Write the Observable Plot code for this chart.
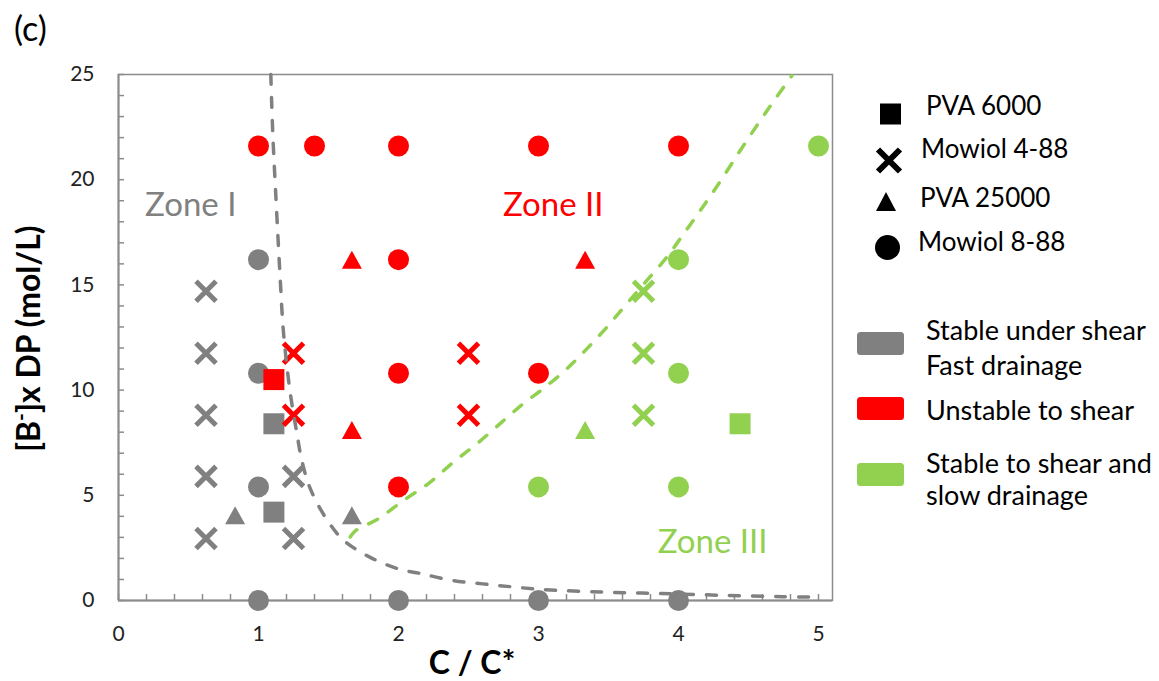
<!DOCTYPE html>
<html><head><meta charset="utf-8">
<script src="https://cdn.jsdelivr.net/npm/d3@7"></script>
<script src="https://cdn.jsdelivr.net/npm/@observablehq/plot@0.6"></script>
<style>
body{margin:0;background:#fff;}
#wrap{position:relative;width:1159px;height:681px;font-family:Lato,"Open Sans",sans-serif;}
#wrap svg{position:absolute;left:0;top:0;}
</style></head><body><div id="wrap"></div>
<script>
// ---- data (x = C / C*, y = [B-] x DP, zone) ----
const circles = [ // Mowiol 8-88
  [1,0,"I"],[2,0,"I"],[3,0,"I"],[4,0,"I"],[1,16.2,"I"],[1,10.8,"I"],[1,5.4,"I"],
  [1,21.6,"II"],[1.4,21.6,"II"],[2,21.6,"II"],[3,21.6,"II"],[4,21.6,"II"],
  [2,16.2,"II"],[2,10.8,"II"],[3,10.8,"II"],[2,5.4,"II"],
  [5,21.6,"III"],[4,16.2,"III"],[4,10.8,"III"],[3,5.4,"III"],[4,5.4,"III"]
];
const squares = [ // PVA 6000
  [1.11,8.4,"I"],[1.11,4.2,"I"],[1.11,10.5,"II"],[4.44,8.4,"III"]
];
const crosses = [ // Mowiol 4-88
  [0.625,14.7,"I"],[0.625,11.75,"I"],[0.625,8.8,"I"],[0.625,5.9,"I"],[0.625,2.95,"I"],
  [1.25,5.9,"I"],[1.25,2.95,"I"],
  [1.25,11.75,"II"],[1.25,8.8,"II"],[2.5,11.75,"II"],[2.5,8.8,"II"],
  [3.75,14.7,"III"],[3.75,11.75,"III"],[3.75,8.8,"III"]
];
const triangles = [ // PVA 25000
  [0.833,4.05,"I"],[1.667,4.05,"I"],
  [1.667,16.2,"II"],[1.667,8.1,"II"],[3.333,16.2,"II"],
  [3.333,8.1,"III"]
];
const boundaryI_X = [1.088,1.102,1.131,1.155,1.179,1.226,1.274,1.31,1.369,1.488,1.607,1.798,2.0,2.167,2.37,2.6,2.81,3.03,3.46,3.88,4.3,4.74,5.0];
const boundaryI_Y = [25.0,22.2,18.3,15.3,12.7,9.9,7.95,6.64,5.33,3.85,2.87,2.05,1.5,1.27,0.97,0.79,0.65,0.52,0.40,0.33,0.25,0.18,0.16];
const boundaryIII_X = [1.655,1.69,1.857,2.036,2.214,2.393,2.56,2.738,2.89,3.048,3.2,3.345,3.488,3.63,3.774,3.917,4.036,4.155,4.286,4.44,4.583,4.69,4.81];
const boundaryIII_Y = [3.02,3.3,3.89,4.76,5.56,6.58,7.45,8.48,9.35,10.14,11.0,11.96,12.99,14.1,15.21,16.32,17.42,18.53,19.8,21.38,22.8,23.83,24.94];
const zoneLabels = [["Zone I",0.19,18.77,"I"],["Zone II",2.746,18.77,"II"],["Zone III",3.852,2.76,"III"]];
const xTickLabels = [0,1,2,3,4,5];
const xMinorTicks = d3.range(0,26).map(i => i/5);
const yTickLabels = [0,5,10,15,20,25];
const yMinorTicks = d3.range(0,26);
const shapeLegend = [["PVA 6000","square"],["Mowiol 4-88","cross"],["PVA 25000","triangle"],["Mowiol 8-88","circle"]];
const zoneLegend = [[["Stable under shear","Fast drainage"],"I"],[["Unstable to shear"],"II"],[["Stable to shear and","slow drainage"],"III"]];

// ---- styles ----
const GRAY = "#808080", RED = "#ff0000", GREEN = "#92d050";
const zoneColor = {I: GRAY, II: RED, III: GREEN};
const FONT = "Lato, 'Open Sans', sans-serif";

const sqSym = {draw(ctx, size){const r = Math.sqrt(size/Math.PI); ctx.rect(-r,-r,2*r,2*r);}};
const triSym = {draw(ctx, size){const r = Math.sqrt(size/Math.PI); ctx.moveTo(0,-0.9*r); ctx.lineTo(r,0.9*r); ctx.lineTo(-r,0.9*r); ctx.closePath();}};
const crossSym = {draw(ctx, size){const r = Math.sqrt(size/Math.PI); ctx.moveTo(-r,-r); ctx.lineTo(r,r); ctx.moveTo(r,-r); ctx.lineTo(-r,r);}};

const curveI = boundaryI_X.map((x,i) => ({x, y: boundaryI_Y[i]}));
const curveIII = boundaryIII_X.map((x,i) => ({x, y: boundaryIII_Y[i]}));
const fx = d => d[0], fy = d => d[1], fc = d => zoneColor[d[2]];

const chart = Plot.plot({
  width: 1159, height: 681,
  marginLeft: 118, marginRight: 327, marginTop: 74, marginBottom: 81,
  x: {domain: [0, 5.1]},
  y: {domain: [0, 25]},
  color: {type: "identity"},
  style: {fontFamily: FONT, background: "transparent", color: "#222", overflow: "visible"},
  marks: [
    Plot.frame({stroke: "#8c8c8c", strokeWidth: 1.5}),
    Plot.axisX({ticks: xMinorTicks, tickSize: -6, tickFormat: () => "", label: null, stroke: "#8c8c8c", strokeWidth: 1.5}),
    Plot.axisY({ticks: yMinorTicks, tickSize: -6, tickFormat: () => "", label: null, stroke: "#8c8c8c", strokeWidth: 1.5}),
    Plot.axisX({ticks: xTickLabels, tickSize: 0, tickPadding: 26, fontSize: 21, tickFormat: d => String(d), label: null}),
    Plot.axisY({ticks: yTickLabels, tickSize: 0, tickPadding: 24, fontSize: 21, tickFormat: d => String(d), label: null}),
    Plot.ruleY([0], {stroke: "#8c8c8c", strokeWidth: 2}),
    Plot.ruleX([0], {stroke: "#8c8c8c", strokeWidth: 2}),
    Plot.dot(circles, {x: fx, y: fy, fill: fc, r: 10.5, symbol: "circle", stroke: "none"}),
    Plot.dot(triangles, {x: fx, y: fy, fill: fc, r: 10, symbol: triSym, stroke: "none"}),
    Plot.dot(squares, {x: fx, y: fy, fill: fc, r: 10.5, symbol: sqSym, stroke: "none"}),
    Plot.dot(crosses, {x: fx, y: fy, stroke: fc, fill: "none", r: 10, symbol: crossSym, strokeWidth: 5, strokeLinecap: "butt"}),
    Plot.line(curveI, {x: "x", y: "y", stroke: GRAY, strokeWidth: 3.5, strokeDasharray: "10,13", strokeLinecap: "round", curve: "catmull-rom"}),
    Plot.line(curveIII, {x: "x", y: "y", stroke: GREEN, strokeWidth: 3.5, strokeDasharray: "10,13", strokeLinecap: "round", curve: "catmull-rom"}),
    Plot.text(zoneLabels, {x: d => d[1], y: d => d[2], text: d => d[0], fill: d => zoneColor[d[3]], fontSize: 33, textAnchor: "start", lineAnchor: "middle", fontFamily: FONT})
  ]
});
const wrap = document.getElementById("wrap");
wrap.appendChild(chart);

// ---- titles ----
const svg = d3.select(chart);
svg.append("text").attr("x", 14).attr("y", 41).attr("text-anchor", "start").attr("font-size", 34).attr("font-family", FONT).attr("fill", "#000").text("(c)");
svg.append("text").attr("x", 472).attr("y", 674).attr("text-anchor", "middle").attr("font-size", 32).attr("font-weight", "bold").attr("font-family", FONT).attr("fill", "#000").text("C / C*");
const yt = svg.append("text").attr("transform", "translate(40,452) rotate(-90)").attr("text-anchor", "start").attr("font-size", 32).attr("font-weight", "bold").attr("font-family", FONT).attr("fill", "#000");
yt.append("tspan").text("[B");
yt.append("tspan").attr("font-size", 21).attr("dy", -12).text("-");
yt.append("tspan").attr("dy", 12).text("]x DP (mol/L)");

// ---- legends (overlay) ----
const leg = d3.select(wrap).append("svg").attr("width", 1159).attr("height", 681).style("pointer-events", "none");
const markerPath = {
  square: "M-10.5,-10.5h21v21h-21z",
  triangle: "M0,-9.5L10,9.5L-10,9.5Z",
  circle: "M12.5,0A12.5,12.5 0 1,1 -12.5,0A12.5,12.5 0 1,1 12.5,0Z",
  cross: "M-11,-11L11,11M11,-11L-11,11"
};
const shapeMarkerPos = [[890.5,114],[889,160.5],[886,201.5],[887.5,247.5]];
const shapeTextPos = [[926,115],[921,158],[920,207],[918,251]];
shapeLegend.forEach(([label, shape], i) => {
  const [mx, my] = shapeMarkerPos[i];
  const g = leg.append("g").attr("transform", `translate(${mx},${my})`);
  if (shape === "cross") g.append("path").attr("d", markerPath.cross).attr("stroke", "#000").attr("stroke-width", 6).attr("fill", "none");
  else g.append("path").attr("d", markerPath[shape]).attr("fill", "#000");
  leg.append("text").attr("x", shapeTextPos[i][0]).attr("y", shapeTextPos[i][1]).attr("font-size", 26).attr("font-family", FONT).attr("fill", "#000").text(label);
});
const zoneTops = [332, 397, 463];
const zoneText = [[340, 375], [420], [473, 505]];
zoneLegend.forEach(([lines, zone], i) => {
  leg.append("rect").attr("x", 857).attr("y", zoneTops[i]).attr("width", 47).attr("height", 23).attr("rx", 3.5).attr("fill", zoneColor[zone]);
  lines.forEach((t, j) => {
    leg.append("text").attr("x", 926).attr("y", zoneText[i][j]).attr("font-size", 27).attr("font-family", FONT).attr("fill", "#000").text(t);
  });
});
</script></body></html>
